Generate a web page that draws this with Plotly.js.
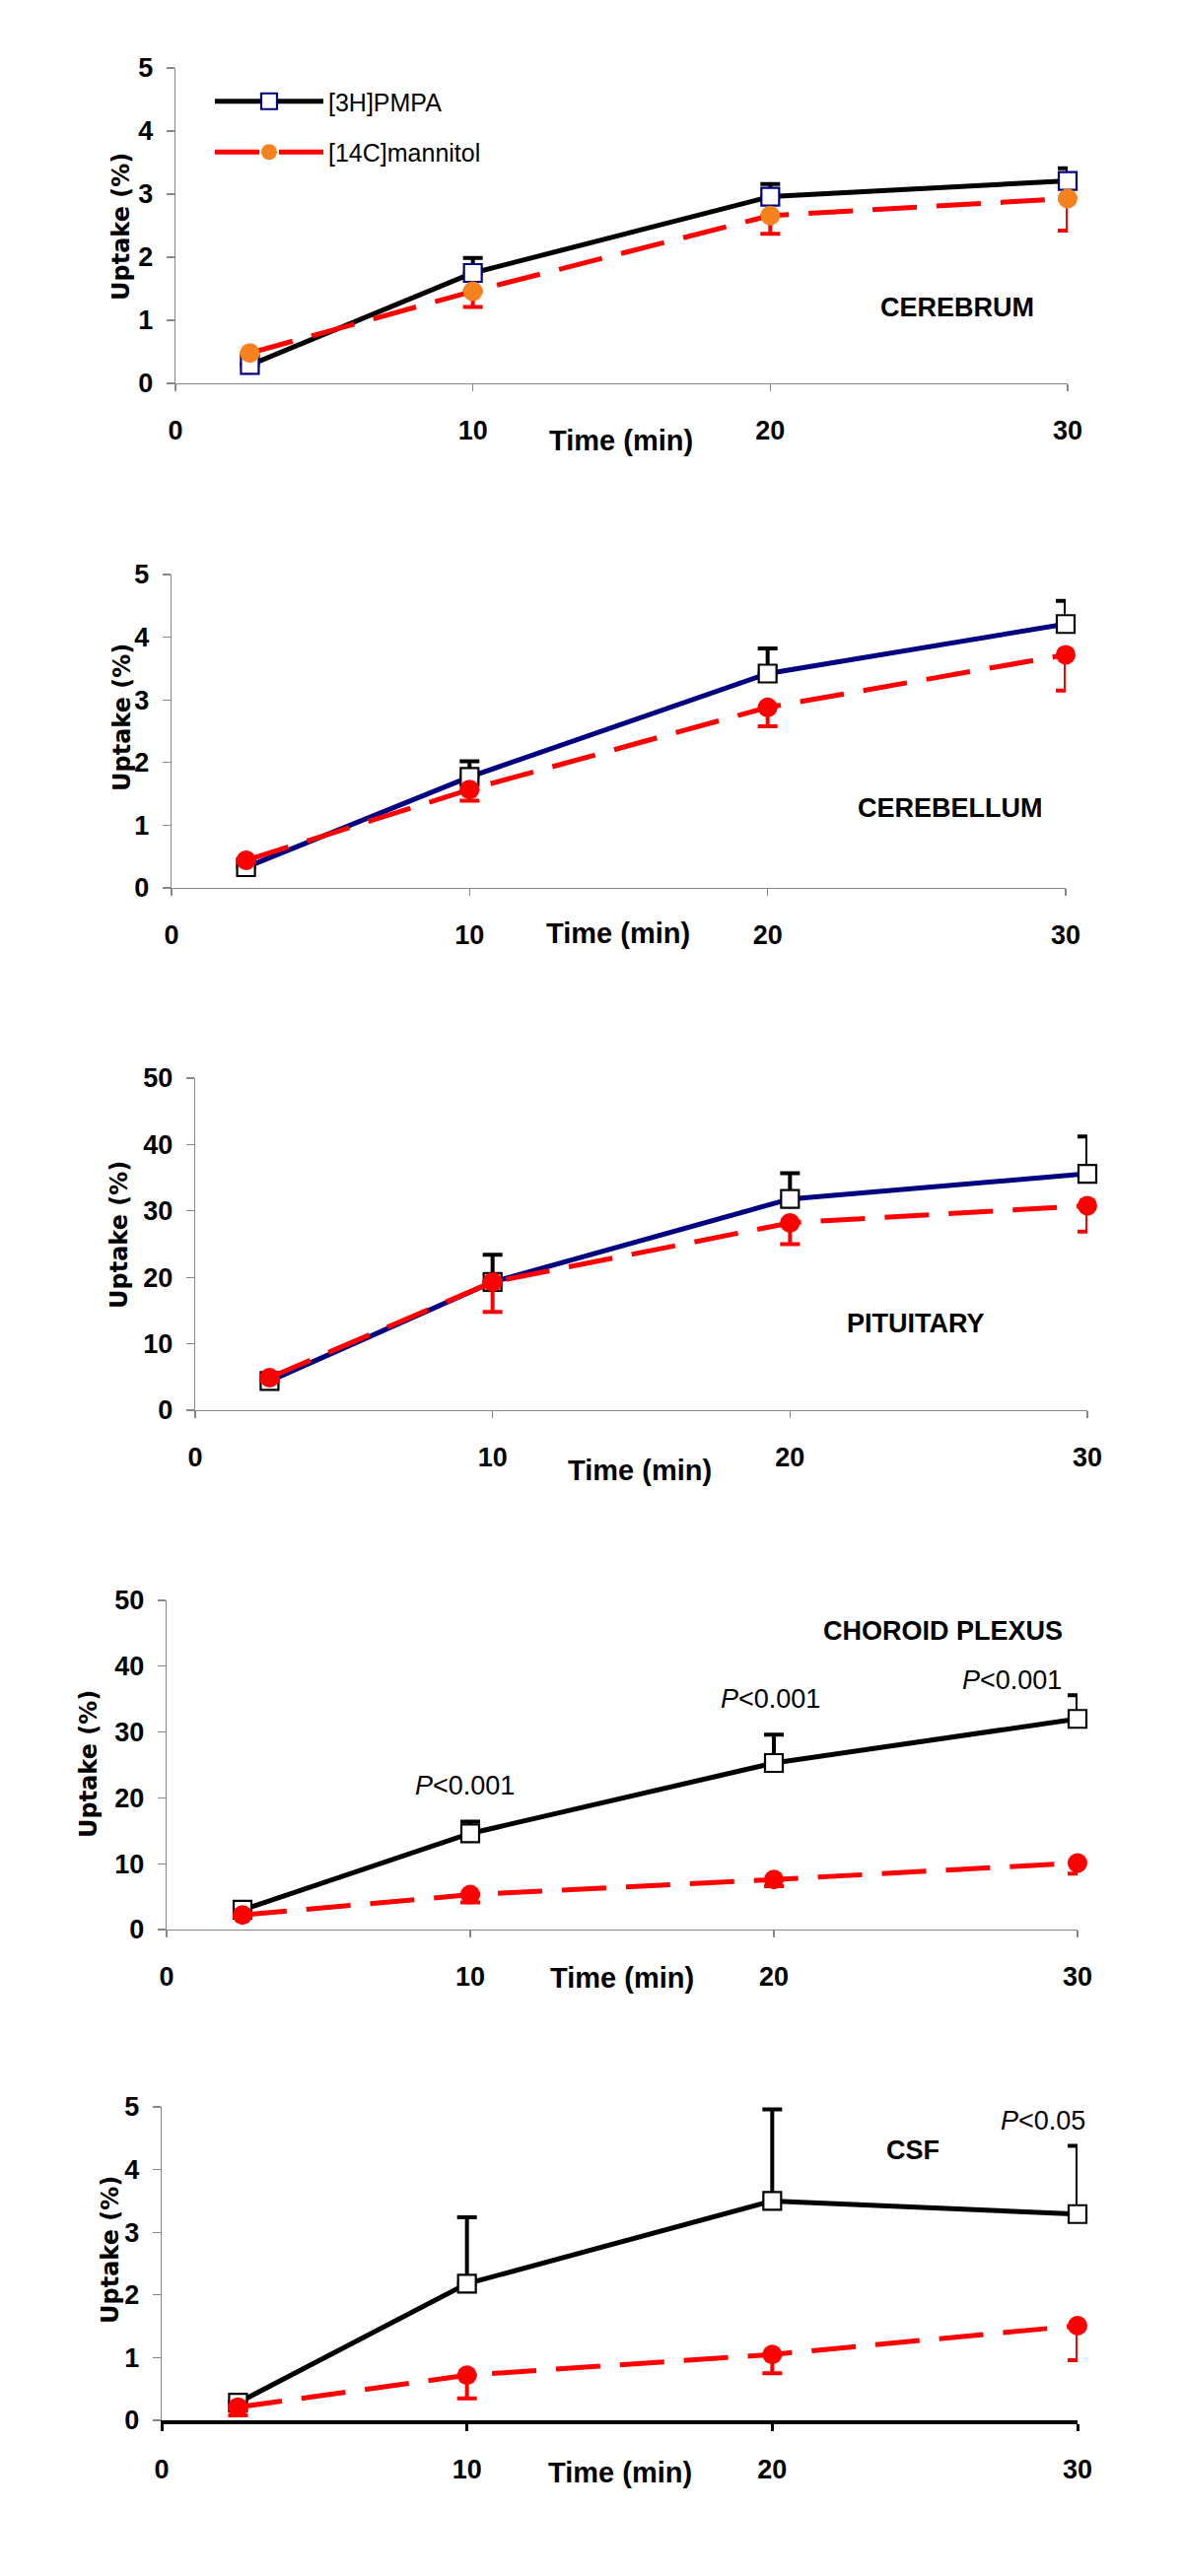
<!DOCTYPE html>
<html>
<head>
<meta charset="utf-8">
<script src="https://cdn.plot.ly/plotly-3.0.1.min.js"></script>
<style>html,body{margin:0;padding:0;background:#fff;}#chart{width:1200px;height:2614px;}</style>
</head>
<body>
<div id="chart"></div>
<script>
// ---------- data ----------
const time = [2.5, 10, 20, 30];
const xTicks = [0, 10, 20, 30];
const seriesNames = ['[3H]PMPA', '[14C]mannitol'];
const regionNames = ['CEREBRUM', 'CEREBELLUM', 'PITUITARY', 'CHOROID PLEXUS', 'CSF'];

const cerebrumPMPA = [0.29, 1.75, 2.96, 3.21];
const cerebrumPMPAerr = [0.02, 0.24, 0.20, 0.20];
const cerebrumMan = [0.48, 1.46, 2.66, 2.93];
const cerebrumManErr = [0.03, 0.25, 0.29, 0.51];

const cerebellumPMPA = [0.33, 1.77, 3.42, 4.21];
const cerebellumPMPAerr = [0.02, 0.25, 0.40, 0.37];
const cerebellumMan = [0.44, 1.57, 2.88, 3.72];
const cerebellumManErr = [0.03, 0.18, 0.30, 0.57];

const pituitaryPMPA = [4.4, 19.3, 31.8, 35.6];
const pituitaryPMPAerr = [0.3, 4.1, 3.9, 5.6];
const pituitaryMan = [4.9, 19.3, 28.2, 30.8];
const pituitaryManErr = [0.5, 4.5, 3.2, 3.9];

const choroidPMPA = [3.0, 14.6, 25.3, 32.0];
const choroidPMPAerr = [0.3, 1.8, 4.3, 3.6];
const choroidMan = [2.2, 5.3, 7.6, 10.1];
const choroidManErr = [0.2, 1.2, 1.0, 1.6];

const csfPMPA = [0.28, 2.18, 3.50, 3.29];
const csfPMPAerr = [0.02, 1.06, 1.46, 1.09];
const csfMan = [0.21, 0.72, 1.05, 1.51];
const csfManErr = [0.13, 0.37, 0.30, 0.55];

const yRanges = [[0, 5], [0, 5], [0, 50], [0, 50], [0, 5]];
const yDticks = [1, 1, 10, 10, 1];

// ---------- layout helpers ----------
const W = 1200, H = 2614;
const px = v => v / W;
const py = v => 1 - v / H;
const FONT = 'Liberation Sans, Arial, sans-serif';
const zeros = [0, 0, 0, 0];

// plot boxes in page pixels [x0, x1, yTop, yBottom]
const boxes = [
  [178, 1083, 69, 389],
  [174, 1081, 583, 901],
  [198, 1103, 1094, 1431],
  [169, 1093, 1624, 1958],
  [164, 1093, 2138, 2456]
];

const panels = [
  {pm: cerebrumPMPA, pmE: cerebrumPMPAerr, mn: cerebrumMan, mnE: cerebrumManErr,
   line: '#000000', sqBorder: '#000080', circ: '#f5821f'},
  {pm: cerebellumPMPA, pmE: cerebellumPMPAerr, mn: cerebellumMan, mnE: cerebellumManErr,
   line: '#000080', sqBorder: '#000000', circ: '#ff0000'},
  {pm: pituitaryPMPA, pmE: pituitaryPMPAerr, mn: pituitaryMan, mnE: pituitaryManErr,
   line: '#000080', sqBorder: '#000000', circ: '#ff0000'},
  {pm: choroidPMPA, pmE: choroidPMPAerr, mn: choroidMan, mnE: choroidManErr,
   line: '#000000', sqBorder: '#000000', circ: '#ff0000'},
  {pm: csfPMPA, pmE: csfPMPAerr, mn: csfMan, mnE: csfManErr,
   line: '#000000', sqBorder: '#000000', circ: '#ff0000'}
];

const traces = [];
const layout = {
  width: W, height: H,
  margin: {l: 0, r: 0, t: 0, b: 0},
  paper_bgcolor: '#ffffff', plot_bgcolor: '#ffffff',
  showlegend: true,
  legend: {
    x: px(213), y: py(80), xanchor: 'left', yanchor: 'top',
    font: {family: FONT, size: 25, color: '#000'},
    itemwidth: 110, tracegroupgap: 16, traceorder: 'grouped',
    bgcolor: 'rgba(0,0,0,0)', borderwidth: 0
  },
  annotations: []
};

panels.forEach((p, i) => {
  const n = i === 0 ? '' : String(i + 1);
  const xa = 'x' + n, ya = 'y' + n;
  traces.push({
    type: 'scatter', mode: 'lines+markers', x: time, y: p.pm, name: seriesNames[0],
    xaxis: xa, yaxis: ya, legendgroup: 'a', showlegend: i === 0, cliponaxis: false,
    line: {color: p.line, width: 5},
    marker: {symbol: 'square', size: 18, color: '#ffffff', line: {color: p.sqBorder, width: 2.2}},
    error_y: {type: 'data', symmetric: false, array: p.pmE, arrayminus: zeros,
              color: '#000000', thickness: 4, width: 10}
  });
  traces.push({
    type: 'scatter', mode: 'lines+markers', x: time, y: p.mn, name: seriesNames[1],
    xaxis: xa, yaxis: ya, legendgroup: 'b', showlegend: i === 0, cliponaxis: false,
    line: {color: '#ff0000', width: 5, dash: '45px,20px'},
    marker: {symbol: 'circle', size: 20, color: p.circ},
    error_y: {type: 'data', symmetric: false, array: zeros, arrayminus: p.mnE,
              color: '#ff0000', thickness: 4, width: 10}
  });

  const b = boxes[i];
  const isLast = i === 4;
  layout['xaxis' + n] = {
    domain: [px(b[0]), px(b[1])], anchor: ya, range: [0, 30],
    tickvals: xTicks, ticktext: xTicks.map(String),
    showgrid: false, zeroline: false, showline: true,
    linecolor: isLast ? '#000000' : '#868686', linewidth: isLast ? 3.5 : 1.3,
    ticks: 'outside', ticklen: 7, tickwidth: isLast ? 3 : 1.3, tickcolor: isLast ? '#000000' : '#868686',
    ticklabelstandoff: 16,
    tickfont: {family: FONT, size: 27, color: '#000', weight: 'bold'},
    fixedrange: true
  };
  layout['yaxis' + n] = {
    domain: [py(b[3]), py(b[2])], anchor: xa, range: yRanges[i], dtick: yDticks[i],
    showgrid: false, zeroline: false, showline: true,
    linecolor: '#868686', linewidth: 1.3,
    ticks: 'outside', ticklen: 8, tickwidth: 1.3, tickcolor: '#868686',
    ticklabelstandoff: 8,
    tickfont: {family: FONT, size: 27, color: '#000', weight: 'bold'},
    fixedrange: true
  };
});

// axis titles and labels
const timeTitlePos = [[630, 447], [627, 947], [649, 1492], [631, 2007], [629, 2509]];
const yTitlePos = [[123, 230], [124, 728], [121, 1253], [90, 1790], [112, 2283]];
const regionPos = [[971, 312], [964, 820], [929, 1343], [956, 1655], [926, 2182]];

function addText(text, x, y, font, extra) {
  layout.annotations.push(Object.assign({
    xref: 'paper', yref: 'paper', x: px(x), y: py(y), showarrow: false,
    xanchor: 'center', yanchor: 'middle', text: text, font: font
  }, extra || {}));
}

timeTitlePos.forEach(p => addText('Time (min)', p[0], p[1],
  {family: FONT, size: 29, color: '#000', weight: 'bold'}));
yTitlePos.forEach(p => addText('Uptake (%)', p[0], p[1],
  {family: 'DejaVu Sans, Verdana, sans-serif', size: 24, color: '#000', weight: 'bold'},
  {textangle: -90}));
regionPos.forEach((p, i) => addText(regionNames[i], p[0], p[1],
  {family: FONT, size: 27, color: '#000', weight: 'bold'}));

const pLabels = [
  ['<i>P</i>&lt;0.001', 471, 1812],
  ['<i>P</i>&lt;0.001', 781, 1724],
  ['<i>P</i>&lt;0.001', 1026, 1705],
  ['<i>P</i>&lt;0.05', 1058, 2152]
];
pLabels.forEach(p => addText(p[0], p[1], p[2], {family: FONT, size: 27, color: '#000'}));

Plotly.newPlot('chart', traces, layout, {displayModeBar: false, staticPlot: true});
</script>
</body>
</html>
